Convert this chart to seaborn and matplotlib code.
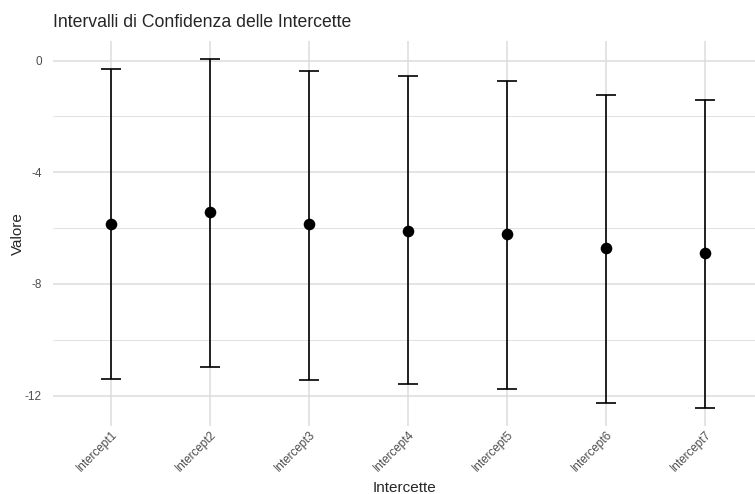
import numpy as np
import pandas as pd
import matplotlib
matplotlib.use("Agg")
import matplotlib.pyplot as plt
import seaborn as sns

# --- dati ---
intercette = ["Intercept1", "Intercept2", "Intercept3", "Intercept4",
              "Intercept5", "Intercept6", "Intercept7"]
stima = [-5.84, -5.41, -5.87, -6.09, -6.23, -6.73, -6.91]
limite_inf = [-11.39, -10.96, -11.43, -11.60, -11.75, -12.28, -12.46]
limite_sup = [-0.32, 0.07, -0.36, -0.54, -0.72, -1.22, -1.40]

df = pd.DataFrame({"Intercette": intercette, "Valore": stima,
                   "inf": limite_inf, "sup": limite_sup})

sns.set_style("white")
plt.rcParams["font.family"] = ["Liberation Sans", "DejaVu Sans"]
plt.rcParams["axes.unicode_minus"] = False

fig = plt.figure(figsize=(7.55, 4.94), dpi=100)
ax = fig.add_axes([53 / 755, 1 - 426 / 494, (755 - 53) / 755, (426 - 41) / 494])

pos = np.arange(len(df))
ax.errorbar(pos, df["Valore"],
            yerr=[df["Valore"] - df["inf"], df["sup"] - df["Valore"]],
            fmt="none", ecolor="black", elinewidth=1.2, capsize=7.2, capthick=1.2, zorder=3)
sns.scatterplot(data=df, x="Intercette", y="Valore", ax=ax, color="black",
                s=70, edgecolor="black", linewidth=0, zorder=4)

ax.set_xlim(-0.586, 6.505)
ax.set_ylim(-13.09, 0.70)
ax.set_yticks([0, -4, -8, -12])
ax.set_yticks([-2, -6, -10], minor=True)
ax.set_xticks(pos)
ax.set_xticklabels(intercette, rotation=45, ha="right", rotation_mode="anchor")

ax.grid(True, which="major", color="#DCDCDC", linewidth=1.1)
ax.grid(True, which="minor", axis="y", color="#DCDCDC", linewidth=0.6)
ax.set_axisbelow(True)
for s in ax.spines.values():
    s.set_visible(False)
ax.tick_params(axis="both", which="both", length=0, labelsize=8.5, labelcolor="#4D4D4D")
ax.tick_params(axis="y", pad=8)
ax.tick_params(axis="x", pad=2)

ax.set_xlabel("Intercette", fontsize=11, labelpad=5)
ax.set_ylabel("Valore", fontsize=11)
ax.yaxis.set_label_coords(-0.040, 0.5)
ax.set_title("Intervalli di Confidenza delle Intercette", fontsize=12.7, loc="left", pad=10)

fig.savefig("out.png", dpi=100)
